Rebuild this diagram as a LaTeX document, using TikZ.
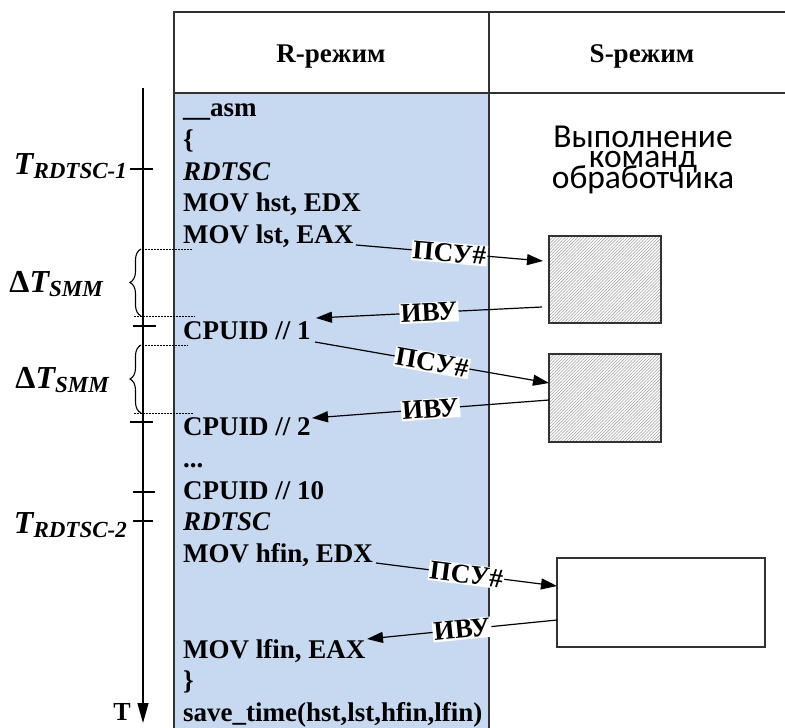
\documentclass[tikz,border=0pt]{standalone}
\usepackage{fontspec}
\setmainfont{Liberation Serif}
\newfontfamily\calib{Carlito}
\usetikzlibrary{arrows.meta,decorations.pathreplacing,patterns.meta,calc}
\definecolor{codebg}{RGB}{198,217,240}
\definecolor{tblline}{RGB}{50,50,50}
\tikzset{
  code/.style={anchor=base west, inner sep=0pt, font=\fontsize{27}{27}\selectfont\bfseries},
  hdr/.style={anchor=base, inner sep=0pt, font=\fontsize{27}{27}\selectfont\bfseries},
  stxt/.style={anchor=base, inner sep=0pt, font=\calib\fontsize{33.5}{33.5}\selectfont},
  lbl/.style={fill=white, inner sep=1.2pt, sloped, font=\fontsize{27}{27}\selectfont\bfseries},
  conn/.style={line width=1.2pt, -{Triangle[length=16pt,width=11pt]}},
  tbl/.style={line width=1.6pt, draw=tblline},
  tick/.style={line width=1.2pt},
  dotl/.style={line width=0.9pt, dash pattern=on 1.5pt off 1.5pt},
  hatchbox/.style={draw=tblline, line width=1.5pt, inner sep=0pt, outer sep=0pt,
    pattern={Lines[angle=45,distance=2.2pt,line width=0.55pt]}, pattern color=gray!75},
  plainbox/.style={draw=tblline, line width=1.5pt, inner sep=0pt, outer sep=0pt, fill=white},
  tlab/.style={anchor=base east, inner sep=0pt},
  bracest/.style={decorate, decoration={brace, amplitude=11pt}, line width=1.1pt}
}
\newcommand{\bigT}{{\fontsize{32}{32}\selectfont\bfseries\itshape T}}
\newcommand{\subtxt}[1]{\raisebox{-4pt}{\fontsize{23}{23}\selectfont\bfseries\itshape #1}}
\newcommand{\dT}{{\fontsize{32}{32}\selectfont\bfseries Δ}}
\begin{document}
\begin{tikzpicture}[x=1pt,y=-1pt]
\useasboundingbox (0,0) rectangle (785,728);
% background table
\fill[codebg] (174,93) rectangle (489,728);
\draw[tbl] (174,728) -- (174,12) -- (785,12);
\draw[tbl] (174,93) -- (785,93);
\draw[tbl] (489,12) -- (489,728);
% headers
\node[hdr] (hR) at (331,62) {R-режим};
\node[hdr] (hS) at (642,62) {S-режим};
% S text
\node[stxt] (s1) at (643,147) {Выполнение};
\node[stxt] (s2) at (643,167.5) {команд};
\node[stxt] (s3) at (643,188.5) {обработчика};
% code lines
\node[code] (asm) at (183,116) {\_\_asm};
\node[code] (ob) at (183,148) {\{};
\node[code] (rd1) at (183,180) {\textit{RDTSC}};
\node[code] (hst) at (183,211) {MOV hst, EDX};
\node[code] (lst) at (183,243) {MOV lst, EAX};
\node[code] (c1) at (183,339) {CPUID // 1};
\node[code] (c2) at (183,435) {CPUID // 2};
\node[code] (dots) at (183,467) {...};
\node[code] (c10) at (183,499) {CPUID // 10};
\node[code] (rd2) at (183,530) {\textit{RDTSC}};
\node[code] (hfin) at (183,562) {MOV hfin, EDX};
\node[code] (lfin) at (183,658) {MOV lfin, EAX};
\node[code] (cb) at (183,689) {\}};
\node[code] (save) at (183,721) {save\_time(hst,lst,hfin,lfin)};
% S-mode boxes
\node[hatchbox, minimum width=112pt, minimum height=87pt] (b1) at (605,279.5) {};
\node[hatchbox, minimum width=112pt, minimum height=88pt] (b2) at (605,398) {};
\node[plainbox, minimum width=208pt, minimum height=89pt] (b3) at (661,602.5) {};
% connector end points
\coordinate (p1s) at (356,245); \coordinate (p1e) at (543,261);
\coordinate (p2s) at (542,307); \coordinate (p2e) at (316,318);
\coordinate (p3s) at (315,342); \coordinate (p3e) at (549,383);
\coordinate (p4s) at (549,400); \coordinate (p4e) at (312,418);
\coordinate (p5s) at (376,563); \coordinate (p5e) at (557,586);
\coordinate (p6s) at (557,620); \coordinate (p6e) at (367,639);
\draw[conn] (p1s) -- node[lbl] (l1) {ПСУ\#} (p1e);
\draw[conn] (p2s) -- node[lbl] (l2) {ИВУ} (p2e);
\draw[conn] (p3s) -- node[lbl] (l3) {ПСУ\#} (p3e);
\draw[conn] (p4s) -- node[lbl] (l4) {ИВУ} (p4e);
\draw[conn] (p5s) -- node[lbl] (l5) {ПСУ\#} (p5e);
\draw[conn] (p6s) -- node[lbl] (l6) {ИВУ} (p6e);
% timeline
\coordinate (tl0) at (143,88);
\coordinate (tl1) at (143,723);
\draw[line width=1.2pt, -{Triangle[length=20pt,width=11pt]}] (tl0) -- (tl1);
\node[tlab, font=\fontsize{26}{26}\selectfont\bfseries] (Tl) at (131,720) {T};
% ticks
\draw[tick] (130,169) -- (153,169);
\draw[tick] (133,326) -- (156,326);
\draw[tick] (130,422) -- (153,422);
\draw[tick] (133,492) -- (155,492);
\draw[tick] (133,521) -- (153,521);
% dotted lines
\draw[dotl] (142,249) -- (192,249);
\draw[dotl] (134,316) -- (195,316);
\draw[dotl] (139,345) -- (188,345);
\draw[dotl] (134,413) -- (193,413);
% braces
\draw[bracest] (141,316) -- (141,249);
\draw[bracest] (141,413) -- (141,345);
% time labels
\node[tlab] (tr1) at (127,174) {\bigT\subtxt{RDTSC-1}};
\node[tlab] (tr2) at (127,533) {\bigT\subtxt{RDTSC-2}};
\node[tlab] (ds1) at (103,292) {\dT\bigT\subtxt{SMM}};
\node[tlab] (ds2) at (109,388) {\dT\bigT\subtxt{SMM}};
\end{tikzpicture}
\end{document}
